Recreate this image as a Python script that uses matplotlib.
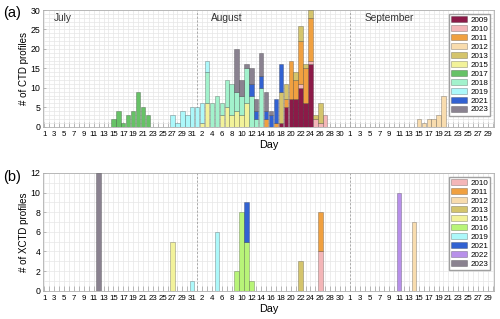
import matplotlib
matplotlib.use('Agg')
import matplotlib.pyplot as plt
import numpy as np
from matplotlib.ticker import MultipleLocator

plt.rcParams['font.family'] = ['Liberation Sans', 'DejaVu Sans']

# number of profiles per day, by year
# (a) CTD
ctd_2009_dates = ['Aug 18', 'Aug 19', 'Aug 20', 'Aug 21', 'Aug 22', 'Aug 23', 'Aug 24']
ctd_2009_n = [1, 5, 7, 7, 10, 6, 16]
ctd_2010_dates = ['Aug 22', 'Aug 24', 'Aug 25', 'Aug 26', 'Aug 27']
ctd_2010_n = [1, 1, 2, 1, 3]
ctd_2011_dates = ['Aug 15', 'Aug 17', 'Aug 19', 'Aug 20', 'Aug 21', 'Aug 22', 'Aug 23', 'Aug 24']
ctd_2011_n = [2, 1, 2, 10, 5, 11, 9, 11]
ctd_2012_dates = ['Sep 15', 'Sep 16', 'Sep 17', 'Sep 18', 'Sep 19', 'Sep 20']
ctd_2012_n = [2, 1, 2, 2, 3, 8]
ctd_2013_dates = ['Aug 18', 'Aug 19', 'Aug 21', 'Aug 22', 'Aug 23', 'Aug 24', 'Aug 25', 'Aug 26']
ctd_2013_n = [8, 4, 2, 4, 1, 2, 1, 5]
ctd_2015_dates = ['Aug 2', 'Aug 3', 'Aug 6', 'Aug 7', 'Aug 8', 'Aug 9', 'Aug 10', 'Aug 11']
ctd_2015_n = [1, 6, 3, 5, 3, 4, 3, 6]
ctd_2017_dates = ['Jul 15', 'Jul 16', 'Jul 17', 'Jul 18', 'Jul 19', 'Jul 20', 'Jul 21', 'Jul 22']
ctd_2017_n = [2, 4, 1, 3, 4, 9, 5, 3]
ctd_2018_dates = ['Aug 3', 'Aug 4', 'Aug 5', 'Aug 6', 'Aug 7', 'Aug 8', 'Aug 9', 'Aug 10',
                  'Aug 11', 'Aug 12', 'Aug 13', 'Aug 14']
ctd_2018_n = [8, 6, 8, 3, 7, 8, 5, 5, 9, 8, 2, 10]
ctd_2019_dates = ['Jul 27', 'Jul 28', 'Jul 29', 'Jul 30', 'Jul 31', 'Aug 1', 'Aug 2', 'Aug 3']
ctd_2019_n = [3, 1, 4, 3, 5, 5, 5, 3]
ctd_2021_dates = ['Aug 12', 'Aug 13', 'Aug 14', 'Aug 15', 'Aug 16', 'Aug 17', 'Aug 18']
ctd_2021_n = [3, 2, 3, 2, 3, 6, 7]
ctd_2023_dates = ['Aug 9', 'Aug 10', 'Aug 11', 'Aug 12', 'Aug 13', 'Aug 14', 'Aug 15', 'Aug 16']
ctd_2023_n = [11, 4, 1, 4, 3, 6, 5, 1]

# (b) XCTD
xctd_2010_dates = ['Aug 26']
xctd_2010_n = [4]
xctd_2011_dates = ['Aug 26']
xctd_2011_n = [4]
xctd_2012_dates = ['Sep 14']
xctd_2012_n = [7]
xctd_2013_dates = ['Aug 22']
xctd_2013_n = [3]
xctd_2015_dates = ['Jul 27']
xctd_2015_n = [5]
xctd_2016_dates = ['Aug 9', 'Aug 10', 'Aug 11', 'Aug 12']
xctd_2016_n = [2, 8, 5, 1]
xctd_2019_dates = ['Jul 31', 'Aug 5']
xctd_2019_n = [1, 6]
xctd_2021_dates = ['Aug 11']
xctd_2021_n = [4]
xctd_2022_dates = ['Sep 11']
xctd_2022_n = [10]
xctd_2023_dates = ['Jul 12']
xctd_2023_n = [12]

colors = {2009: '#8c1a48', 2010: '#f4b6b8', 2011: '#f0a040', 2012: '#f8dcae',
          2013: '#d4c46c', 2015: '#f2f29a', 2016: '#b8f478', 2017: '#66c266',
          2018: '#a2f2cc', 2019: '#acf8fa', 2021: '#3262d2', 2022: '#b890ea',
          2023: '#8a8290'}

month_start = {'Jul': 0, 'Aug': 31, 'Sep': 62}
n_days = 92


def day_index(s):
    m, d = s.split()
    return month_start[m] + int(d) - 1


def day_of_month(i):
    if i < 31:
        return i + 1
    if i < 62:
        return i - 30
    return i - 61


def stacked(ax, series):
    bottom = np.zeros(n_days)
    for year, dates, counts in series:
        x = np.array([day_index(s) for s in dates])
        h = np.array(counts, dtype=float)
        ax.bar(x, h, bottom=bottom[x], width=0.9, color=colors[year],
               edgecolor=(0, 0, 0, 0.35), linewidth=0.45, label=str(year), zorder=3)
        bottom[x] += h


def style(ax, ymax, ystep, ylabel):
    ax.set_xlim(-0.35, 91.25)
    ax.set_ylim(0, ymax)
    ax.set_xticks(range(n_days))
    ax.set_xticklabels([str(day_of_month(i)) if i % 2 == 0 else '' for i in range(n_days)])
    ax.yaxis.set_major_locator(MultipleLocator(ystep))
    ax.yaxis.set_minor_locator(MultipleLocator(1))
    ax.set_axisbelow(True)
    ax.grid(axis='x', which='major', color='#e6e6e6', linewidth=0.5)
    ax.grid(axis='y', which='both', color='#e6e6e6', linewidth=0.5)
    ax.tick_params(axis='x', direction='in', length=3.3, width=0.5, color='#a0a0a0',
                   labelsize=5.7, pad=3)
    ax.tick_params(axis='y', which='major', direction='in', length=2, width=0.5,
                   color='#a0a0a0', labelsize=6.3, pad=1.5)
    ax.tick_params(axis='y', which='minor', length=0)
    for sp in ax.spines.values():
        sp.set_color('#b0b0b0')
        sp.set_linewidth(0.6)
    for x in [31, 62]:
        ax.axvline(x, color='#a0a0a0', linestyle=(0, (2.5, 2)), linewidth=0.6, zorder=2)
    ax.set_xlabel('Day', fontsize=7.8, labelpad=1.5)
    ax.set_ylabel(ylabel, fontsize=7, labelpad=1.5)
    ax.legend(loc='upper right', fontsize=5.8, fancybox=False, framealpha=1,
              edgecolor='#a0a0a0', handlelength=2.0, handleheight=0.75,
              labelspacing=0.15, borderaxespad=0.45, borderpad=0.3, handletextpad=0.35)


fig = plt.figure(figsize=(5, 3.19), dpi=100)
ax1 = fig.add_axes([0.0854, 0.6028, 0.9026, 0.3658])
ax2 = fig.add_axes([0.0854, 0.0887, 0.9026, 0.369])

stacked(ax1, [(2009, ctd_2009_dates, ctd_2009_n), (2010, ctd_2010_dates, ctd_2010_n),
              (2011, ctd_2011_dates, ctd_2011_n), (2012, ctd_2012_dates, ctd_2012_n),
              (2013, ctd_2013_dates, ctd_2013_n), (2015, ctd_2015_dates, ctd_2015_n),
              (2017, ctd_2017_dates, ctd_2017_n), (2018, ctd_2018_dates, ctd_2018_n),
              (2019, ctd_2019_dates, ctd_2019_n), (2021, ctd_2021_dates, ctd_2021_n),
              (2023, ctd_2023_dates, ctd_2023_n)])
stacked(ax2, [(2010, xctd_2010_dates, xctd_2010_n), (2011, xctd_2011_dates, xctd_2011_n),
              (2012, xctd_2012_dates, xctd_2012_n), (2013, xctd_2013_dates, xctd_2013_n),
              (2015, xctd_2015_dates, xctd_2015_n), (2016, xctd_2016_dates, xctd_2016_n),
              (2019, xctd_2019_dates, xctd_2019_n), (2021, xctd_2021_dates, xctd_2021_n),
              (2022, xctd_2022_dates, xctd_2022_n), (2023, xctd_2023_dates, xctd_2023_n)])

style(ax1, 30, 5, '# of CTD profiles')
style(ax2, 12, 2, '# of XCTD profiles')

# month names
for name, xpos in [('July', 3.7), ('August', 37.0), ('September', 69.9)]:
    ax1.text(xpos, 28.0, name, fontsize=7.3, ha='center', va='center', color='#333333')

fig.text(0.024, 0.959, '(a)', fontsize=10.5, ha='center', va='center')
fig.text(0.024, 0.446, '(b)', fontsize=10.5, ha='center', va='center')

fig.savefig('out.png', dpi=100)
